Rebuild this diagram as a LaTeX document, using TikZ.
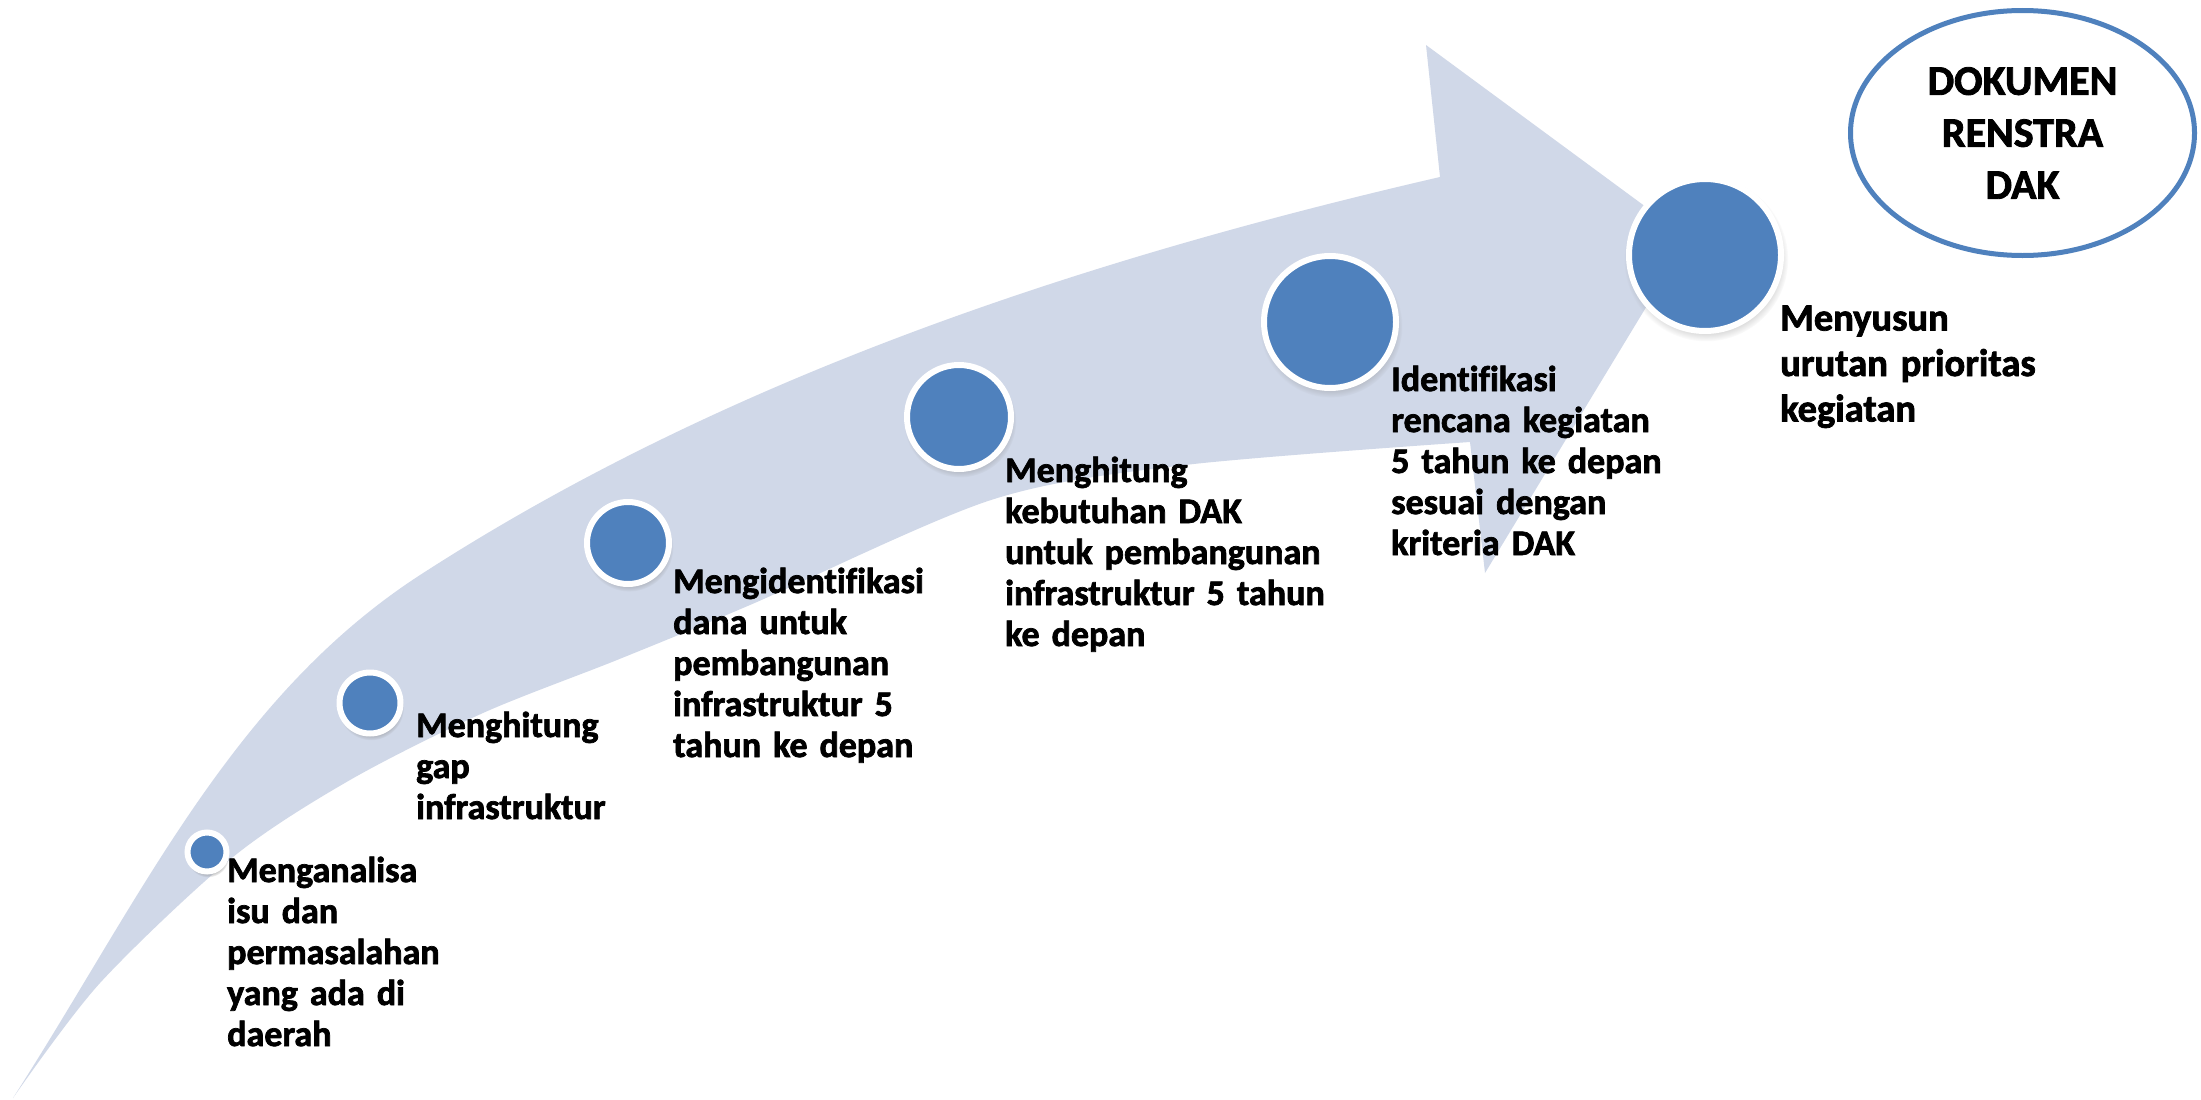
\documentclass[tikz,border=0pt]{standalone}
\usepackage{fontspec}
\setmainfont{Carlito}[Ligatures=NoCommon, BoldFeatures={FakeBold=2}]
\usetikzlibrary{shapes.geometric,shadows}
\definecolor{dotblue}{HTML}{4F81BD}
\definecolor{bandfill}{HTML}{D0D8E8}
\begin{document}
\begin{tikzpicture}[x=1pt,y=-1pt,
  dot/.style={circle, fill=dotblue, draw=white, line width=6pt, inner sep=0pt,
    circular drop shadow={shadow xshift=1pt, shadow yshift=-4pt, shadow scale=1.08, opacity=0.4}},
  lbl/.style={anchor=base west, inner sep=0pt, text width=440pt, align=left,
    font=\bfseries\fontsize{36}{41}\selectfont},
  biglbl/.style={anchor=base west, inner sep=0pt, text width=440pt, align=left,
    font=\bfseries\fontsize{38.5}{45.5}\selectfont},
  doc/.style={ellipse, draw=dotblue, line width=5pt, fill=white, inner sep=0pt,
    minimum width=344pt, minimum height=245pt, align=center,
    font=\bfseries\fontsize{42}{52}\selectfont}
]
\useasboundingbox (0,0) rectangle (2201,1100);
\fill[white] (0,0) rectangle (2201,1100);

% curved band arrow
\fill[bandfill]
  (13,1098) .. controls (140,900) and (230,700) .. (417,577)
  .. controls (724,377.5) and (1083.5,259.4) .. (1440,177)
  -- (1426,45) -- (1688,238) -- (1485,573) -- (1470,442)
  -- plot[smooth, tension=0.5] coordinates {(1470,442) (1185,465) (991,500) (750,605) (617,660) (483,713) (350,780) (233,857) (100,983) (13,1098)}
  -- cycle;

% step circles
\node[dot, minimum size=39pt]  (c1) at (207,852) {};
\node[dot, minimum size=61pt]  (c2) at (370,703) {};
\node[dot, minimum size=82pt]  (c3) at (628,543) {};
\node[dot, minimum size=104pt] (c4) at (959,417) {};
\node[dot, minimum size=132pt] (c5) at (1330,322) {};
\node[dot, minimum size=152pt] (c6) at (1705,255) {};

% labels
\node[lbl] (t1) at (227,882) {Menganalisa\\isu dan\\permasalahan\\yang ada di\\daerah};
\node[lbl] (t2) at (416,737) {Menghitung\\gap\\infrastruktur};
\node[lbl] (t3) at (673,593) {Mengidentifikasi\\dana untuk\\pembangunan\\infrastruktur 5\\tahun ke depan};
\node[lbl] (t4) at (1005,482) {Menghitung\\kebutuhan DAK\\untuk pembangunan\\infrastruktur 5 tahun\\ke depan};
\node[lbl] (t5) at (1391,391) {Identifikasi\\rencana kegiatan\\5 tahun ke depan\\sesuai dengan\\kriteria DAK};
\node[biglbl] (t6) at (1780,330.5) {Menyusun\\urutan prioritas\\kegiatan};

% result document
\node[doc] (doc) at (2022.5,133) {DOKUMEN\\RENSTRA\\DAK};
\end{tikzpicture}
\end{document}
